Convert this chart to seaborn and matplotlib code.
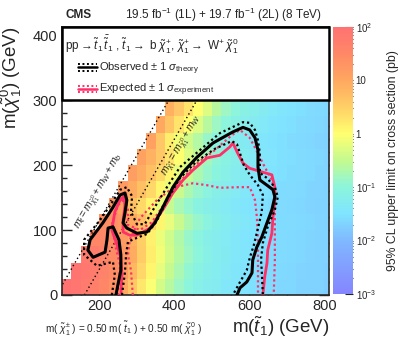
import numpy as np
import pandas as pd
import matplotlib
matplotlib.use("Agg")
import matplotlib.pyplot as plt
import seaborn as sns
from matplotlib.colors import LinearSegmentedColormap
from matplotlib.lines import Line2D
from matplotlib.legend_handler import HandlerBase
from matplotlib.patches import Rectangle

# ---- data -------------------------------------------------------------
# bin centres (GeV)
stop_mass = [112.5, 137.5, 162.5, 187.5, 212.5, 237.5, 262.5, 287.5, 312.5, 337.5,
             362.5, 387.5, 412.5, 437.5, 462.5, 487.5, 512.5, 537.5, 562.5, 587.5,
             612.5, 637.5, 662.5, 687.5, 712.5, 737.5, 762.5, 787.5, 812.5]
lsp_mass = [12.5, 37.5, 62.5, 87.5, 112.5, 137.5, 162.5, 187.5, 212.5, 237.5, 262.5, 287.5]

N = np.nan
# log10 of the 95% CL upper limit (pb), one list per neutralino mass row
lim_012 = [2.0, 1.9, 1.8, 1.7, 1.55, 1.35, 1.0, 0.6, 0.25, -0.05, -0.35, -0.6, -0.85, -1.0, -1.15,
           -1.25, -1.3, -1.4, -1.45, -1.5, -1.55, -1.6, -1.6, -1.65, -1.65, -1.7, -1.7, -1.7, -1.75]
lim_037 = [N, 1.95, 1.85, 1.75, 1.63, 1.45, 1.18, 0.8, 0.43, 0.1, -0.2, -0.48, -0.73, -0.93, -1.08,
           -1.2, -1.28, -1.35, -1.43, -1.48, -1.53, -1.58, -1.6, -1.63, -1.65, -1.68, -1.7, -1.7, -1.73]
lim_062 = [N, N, 1.8, 1.72, 1.6, 1.45, 1.25, 0.95, 0.55, 0.2, -0.1, -0.38, -0.62, -0.85, -1.0,
           -1.15, -1.25, -1.32, -1.4, -1.45, -1.5, -1.55, -1.58, -1.6, -1.63, -1.65, -1.68, -1.7, -1.7]
lim_087 = [N, N, N, 1.55, 1.5, 1.4, 1.2, 0.9, 0.5, 0.15, -0.15, -0.42, -0.66, -0.88, -1.03,
           -1.17, -1.26, -1.33, -1.4, -1.46, -1.5, -1.55, -1.58, -1.6, -1.63, -1.65, -1.67, -1.7, -1.7]
lim_112 = [N, N, N, N, 1.4, 1.35, 1.25, 1.0, 0.7, 0.4, 0.1, -0.2, -0.46, -0.7, -0.9,
           -1.06, -1.18, -1.27, -1.34, -1.4, -1.46, -1.5, -1.55, -1.58, -1.6, -1.63, -1.65, -1.68, -1.7]
lim_137 = [N, N, N, N, N, 1.25, 1.05, 0.7, 0.4, 0.1, -0.2, -0.5, -0.75, -0.92, -1.07,
           -1.18, -1.26, -1.33, -1.4, -1.45, -1.5, -1.54, -1.58, -1.6, -1.63, -1.65, -1.68, -1.7, -1.7]
lim_162 = [N, N, N, N, N, N, 1.2, 0.95, 0.7, 0.4, 0.1, -0.2, -0.46, -0.7, -0.9,
           -1.05, -1.17, -1.26, -1.33, -1.4, -1.46, -1.5, -1.55, -1.58, -1.6, -1.63, -1.66, -1.68, -1.7]
lim_187 = [N, N, N, N, N, N, N, 1.15, 0.95, 0.7, 0.4, 0.1, -0.2, -0.45, -0.7,
           -0.9, -1.04, -1.16, -1.25, -1.32, -1.4, -1.45, -1.5, -1.54, -1.58, -1.6, -1.63, -1.66, -1.68]
lim_212 = [N, N, N, N, N, N, N, N, 1.1, 0.85, 0.6, 0.3, 0.0, -0.3, -0.55,
           -0.78, -0.95, -1.1, -1.2, -1.28, -1.35, -1.42, -1.47, -1.52, -1.56, -1.6, -1.62, -1.65, -1.68]
lim_237 = [N, N, N, N, N, N, N, N, N, 1.1, 0.6, 0.2, -0.1, -0.4, -0.65,
           -0.88, -1.03, -1.15, -1.25, -1.32, -1.4, -1.45, -1.5, -1.55, -1.6, -1.62, -1.65, -1.68, -1.7]
lim_262 = [N, N, N, N, N, N, N, N, N, N, 1.0, 0.65, 0.3, 0.0, -0.3,
           -0.6, -0.85, -1.0, -1.12, -1.22, -1.3, -1.38, -1.44, -1.5, -1.55, -1.6, -1.62, -1.65, -1.68]
lim_287 = [N, N, N, N, N, N, N, N, N, N, N, 0.9, 0.6, 0.3, 0.0,
           -0.3, -0.6, -0.85, -1.0, -1.12, -1.22, -1.3, -1.38, -1.44, -1.5, -1.55, -1.6, -1.62, -1.65]

# contours (m_stop, m_lsp) in GeV
obs_x = [244, 249, 257, 257, 252, 236, 223, 220, 215, 183, 169, 175, 209, 236, 255, 268, 273, 268, 263, 273,
         300, 327, 348, 369, 396, 423, 460, 503, 556, 583, 601, 615, 623, 623, 628, 647, 663, 668, 660, 647,
         633, 620, 609, 607, 593, 575, 567]
obs_y = [0, 15, 38, 62, 85, 105, 103, 85, 66, 58, 69, 85, 111, 135, 154, 157, 146, 126, 111, 103,
         95, 97, 111, 135, 166, 189, 212, 234, 251, 258, 254, 242, 223, 197, 177, 169, 162, 151, 131, 111,
         89, 74, 54, 34, 20, 11, 0]
obs_up_x = [233, 241, 236, 193, 159, 159, 201, 233, 255, 273, 287, 284, 300, 321, 343, 380, 415, 468, 521, 583,
            601, 615, 623, 628, 628, 647, 668, 676, 668, 649, 636, 631, 633, 636]
obs_up_y = [0, 31, 51, 45, 62, 85, 115, 142, 162, 166, 152, 128, 109, 109, 131, 166, 197, 223, 249, 266,
            265, 254, 238, 218, 188, 180, 166, 151, 131, 105, 80, 54, 38, 0]
obs_dn_x = [260, 268, 271, 276, 300, 327, 353, 380, 415, 460, 508, 553, 567, 575, 585, 601, 623, 636, 633, 623,
            612, 601, 593, 575, 556]
obs_dn_y = [0, 35, 62, 82, 88, 94, 114, 146, 180, 206, 225, 237, 232, 218, 200, 185, 169, 154, 128, 103,
            77, 57, 38, 20, 0]
exp_x = [257, 260, 257, 247, 233, 241, 255, 265, 268, 263, 263, 281, 300, 335, 369, 396, 423, 449, 487, 521,
         548, 556, 569, 583, 601, 636, 660, 668, 668, 663, 660, 649, 647, 641, 636]
exp_y = [0, 31, 57, 77, 100, 128, 146, 152, 138, 115, 97, 92, 92, 103, 131, 157, 177, 192, 211, 215,
         228, 234, 218, 203, 195, 189, 185, 166, 146, 120, 95, 69, 49, 28, 0]
exp_up_x = [249, 255, 244, 233, 249, 268, 276, 276, 308, 340, 375, 409, 455, 508, 553, 575, 601, 623, 641, 660,
            668, 668, 668, 668, 665]
exp_up_y = [0, 46, 72, 108, 138, 149, 131, 108, 100, 112, 142, 171, 200, 223, 246, 254, 242, 218, 197, 177,
            151, 120, 85, 54, 0]
exp_dn_x = [289, 284, 276, 281, 308, 353, 396, 449, 487, 521, 575, 601, 615, 620, 623, 623, 623]
exp_dn_y = [0, 38, 62, 85, 118, 146, 165, 172, 169, 165, 166, 166, 146, 120, 85, 46, 0]

# kinematic boundaries m_stop - m_lsp (GeV)
kin_offsets = [85, 160]

# ---- style -------------------------------------------------------------
sns.set_style("ticks")
plt.rcParams["font.family"] = ["Liberation Sans", "DejaVu Sans"]
plt.rcParams["mathtext.fontset"] = "custom"
plt.rcParams["mathtext.rm"] = "Liberation Sans"
plt.rcParams["mathtext.it"] = "Liberation Sans:italic"
plt.rcParams["mathtext.bf"] = "Liberation Sans:bold"

cmap = LinearSegmentedColormap.from_list("cms", [
    (0.0, "#8585ff"), (0.2, "#80b8ff"), (0.3, "#80e4ff"), (0.4, "#8cf5dc"),
    (0.5, "#c4fa90"), (0.6, "#ffff70"), (0.7, "#ffd066"), (0.8, "#ffa860"),
    (0.9, "#ff8866"), (1.0, "#ff7272")])

grid = pd.DataFrame([lim_012, lim_037, lim_062, lim_087, lim_112, lim_137,
                     lim_162, lim_187, lim_212, lim_237, lim_262, lim_287],
                    index=lsp_mass, columns=stop_mass)


def idx(m_stop, m_lsp):
    # GeV -> heatmap cell coordinates
    return (np.asarray(m_stop, float) - 100) / 25, np.asarray(m_lsp, float) / 25


fig = plt.figure(figsize=(4.07, 3.43), dpi=100)
ax = fig.add_axes([62 / 407, 48 / 343, 267 / 407, 268 / 343])
cax = fig.add_axes([333 / 407, 49 / 343, 20 / 407, 267 / 343])

sns.heatmap(grid, ax=ax, cmap=cmap, vmin=-3, vmax=2, cbar_ax=cax,
            xticklabels=False, yticklabels=False)
ax.set_xlim(0, 28.5)
ax.set_ylim(0, 16.5)
for s in ax.spines.values():
    s.set_visible(True)
    s.set_linewidth(1.2)

# kinematic lines
yy = np.array([0, 412.5])
for off in kin_offsets:
    ax.plot(*idx(yy + off, yy), color="black", lw=1.0, ls=(0, (1, 2)), zorder=2)
ax.text(*idx(200, 160), r"$m_{\tilde{t}} = m_{\tilde{\chi}^{0}_{1}} + m_{W} + m_{b}$",
        rotation=60, ha="center", va="center", fontsize=7.5, rotation_mode="anchor")
ax.text(*idx(422, 230), r"$m_{\tilde{\chi}^{+}_{1}} = m_{\tilde{\chi}^{0}_{1}} + m_{W}$",
        rotation=60, ha="center", va="center", fontsize=7.5, rotation_mode="anchor")

red = "#ff3068"
dot = (0, (1, 1.3))
ax.plot(*idx(exp_up_x, exp_up_y), color=red, lw=1.6, ls=dot, zorder=3)
ax.plot(*idx(exp_dn_x, exp_dn_y), color=red, lw=1.6, ls=dot, zorder=3)
ax.plot(*idx(exp_x, exp_y), color=red, lw=2.0, zorder=3)
ax.plot(*idx(obs_up_x, obs_up_y), color="black", lw=1.6, ls=dot, zorder=4)
ax.plot(*idx(obs_dn_x, obs_dn_y), color="black", lw=1.6, ls=dot, zorder=4)
ax.plot(*idx(obs_x, obs_y), color="black", lw=2.2, zorder=4)

# white legend box on top of the plot
ax.add_patch(Rectangle((0, 300 / 412.5), 1, 1 - 300 / 412.5, transform=ax.transAxes,
                       facecolor="white", edgecolor="black", lw=1.8, zorder=5, clip_on=False))
ax.text(0.012, 0.933, r"pp$\rightarrow\tilde{t}_{1}\,\bar{\tilde{t}}_{1}$ , $\tilde{t}_{1}\rightarrow$ b $\tilde{\chi}^{+}_{1}$, "
        r"$\tilde{\chi}^{+}_{1}\rightarrow$ W$^{+}\,\tilde{\chi}^{0}_{1}$",
        transform=ax.transAxes, fontsize=8.5, va="center", ha="left", zorder=6)


class BandHandler(HandlerBase):
    def create_artists(self, legend, orig, xd, yd, w, h, fs, trans):
        col = orig.get_color()
        arts = []
        for frac, ls, lw in [(1.0, dot, 1.4), (0.5, "-", 1.8), (0.0, dot, 1.4)]:
            y = -yd + frac * h
            arts.append(Line2D([-xd, -xd + w], [y, y], color=col, ls=ls, lw=lw, transform=trans))
        return arts


h_obs = Line2D([], [], color="black")
h_exp = Line2D([], [], color=red)
leg = ax.legend([h_obs, h_exp],
                [r"Observed $\pm$ 1 $\sigma_{\mathrm{theory}}$", r"Expected $\pm$ 1 $\sigma_{\mathrm{experiment}}$"],
                handler_map={Line2D: BandHandler()}, loc="upper left", bbox_to_anchor=(0.04, 0.895),
                frameon=False, fontsize=8.0, handlelength=1.7, handleheight=0.5, handletextpad=0.2,
                labelspacing=0.45, borderpad=0.0)
leg.set_zorder(6)

# ticks
ax.set_xticks([4, 12, 20, 28])
ax.set_xticklabels(["200", "400", "600", "800"])
ax.set_xticks(np.arange(0, 28.6, 2), minor=True)
ax.set_yticks([0, 4, 8, 12, 16])
ax.set_yticklabels(["0", "100", "200", "300", "400"])
ax.set_yticks(np.arange(0, 16.6, 0.8), minor=True)
ax.tick_params(which="both", direction="in", top=True, right=True, labelsize=10.5, width=1.0)
ax.tick_params(which="major", length=7)
ax.tick_params(which="minor", length=3.5)
ax.tick_params(axis="x", pad=3)
ax.tick_params(axis="y", labelrotation=0)

ax.text(-0.19, 1.0, r"m($\tilde{\chi}^{0}_{1}$) (GeV)", transform=ax.transAxes, fontsize=13.5,
        rotation=90, rotation_mode="anchor", ha="right", va="center")
ax.text(1.0, -0.12, r"m($\tilde{t}_{1}$) (GeV)", transform=ax.transAxes, fontsize=13.5,
        ha="right", va="center")

# colour bar
cbar = ax.collections[0].colorbar
cbar.outline.set_visible(False)
cbar.set_ticks([-3, -2, -1, 0, 1, 2])
cbar.set_ticklabels([r"$10^{-3}$", r"$10^{-2}$", r"$10^{-1}$", "1", "10", r"$10^{2}$"])
minor = [d + np.log10(k) for d in range(-3, 2) for k in range(2, 10)]
cax.set_yticks(minor, minor=True)
cax.tick_params(which="both", direction="in", right=True, left=False, labelsize=7, width=0.8, pad=2)
cax.tick_params(which="major", length=6)
cax.tick_params(which="minor", length=3)
cax.set_ylabel("95% CL upper limit on cross section (pb)", fontsize=8.8, labelpad=8)

fig.text(65 / 407, 1 - 15 / 343, "CMS", fontsize=8.5, fontweight="bold", va="center")
fig.text(322 / 407, 1 - 15 / 343, r"19.5 fb$^{-1}$ (1L) + 19.7 fb$^{-1}$ (2L) (8 TeV)",
         fontsize=8.5, va="center", ha="right")
fig.text(45 / 407, 1 - 328 / 343,
         r"m( $\tilde{\chi}^{\pm}_{1}$ ) = 0.50 m( $\tilde{t}_{1}$ ) + 0.50 m( $\tilde{\chi}^{0}_{1}$ )",
         fontsize=7.2, va="center")

fig.savefig("out.png", dpi=100)
